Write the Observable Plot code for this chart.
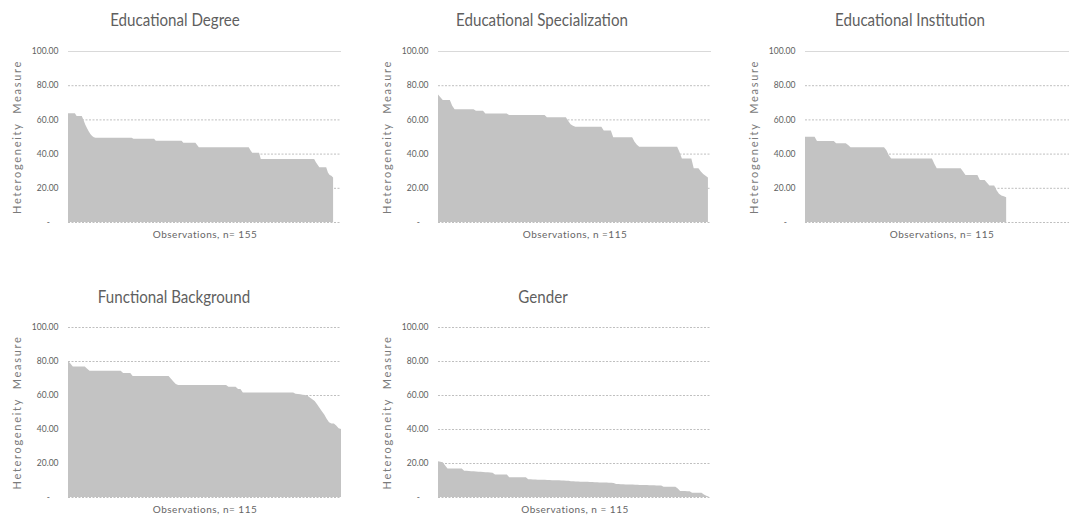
<!DOCTYPE html>
<html><head><meta charset="utf-8">
<script src="https://cdn.jsdelivr.net/npm/d3@7"></script>
<script src="https://cdn.jsdelivr.net/npm/@observablehq/plot@0.6"></script>
<style>
body{margin:0;background:#fff;}
#chart{position:relative;width:1069px;height:521px;overflow:hidden;background:#fff;font-family:Lato,'Open Sans',sans-serif;}
.title{position:absolute;transform:translate(-50%,-50%) scaleX(0.84);font-size:18px;color:#5f5f5f;white-space:nowrap;line-height:1;}
.panel{position:absolute;width:352px;height:215px;}
.panel svg{max-width:none !important;}
</style></head><body><div id="chart"></div>
<script>
// ---- data ----
const titles = ["Educational Degree", "Educational Specialization", "Educational Institution", "Functional Background", "Gender"];
const xLabels = ["Observations, n= 155", "Observations, n =115", "Observations, n= 115", "Observations, n= 115", "Observations, n = 115"];
const yLabel = "Heterogeneity\u00a0 Measure";
const yTicks = [0, 20, 40, 60, 80, 100];
const yTickLabels = ["-\u00a0\u00a0\u00a0\u00a0", "20.00", "40.00", "60.00", "80.00", "100.00"];

const degree = [
  63.6, 63.6, 63.6, 63.6, 63.6, 62, 62, 62, 62,
  59.6, 57, 55, 53, 51.5, 50.3, 49.6,
  49.3, 49.3, 49.3, 49.3, 49.3, 49.3, 49.3, 49.3, 49.3, 49.3, 49.3, 49.3, 49.3, 49.3, 49.3, 49.3, 49.3, 49.3, 49.3, 49.3, 49.3, 49.3,
  48.7, 48.7, 48.7, 48.7, 48.7, 48.7, 48.7, 48.7, 48.7, 48.7, 48.7, 48.7, 48.7,
  47.5, 47.5, 47.5, 47.5, 47.5, 47.5, 47.5, 47.5, 47.5, 47.5, 47.5, 47.5, 47.5, 47.5, 47.5, 47.5,
  46.4, 46.4, 46.4, 46.4, 46.4, 46.4, 46.4, 46.4,
  45,
  43.7, 43.7, 43.7, 43.7, 43.7, 43.7, 43.7, 43.7, 43.7, 43.7, 43.7, 43.7, 43.7, 43.7, 43.7,
  43.7, 43.7, 43.7, 43.7, 43.7, 43.7, 43.7, 43.7, 43.7, 43.7, 43.7, 43.7, 43.7, 43.7, 43.7,
  42,
  40.5, 40.5, 40.5, 40.5, 40.5,
  36.8, 36.8, 36.8, 36.8, 36.8, 36.8, 36.8, 36.8, 36.8, 36.8, 36.8, 36.8, 36.8, 36.8, 36.8, 36.8,
  36.8, 36.8, 36.8, 36.8, 36.8, 36.8, 36.8, 36.8, 36.8, 36.8, 36.8, 36.8, 36.8, 36.8, 36.8, 36.8,
  35, 33.5,
  32, 32, 32, 32, 32,
  29, 27.5, 27, 26
];
const specialization = [
  74.5, 73, 71.3, 71.3, 71.3, 71.3, 68,
  66, 66, 66, 66, 66, 66, 66, 66, 66,
  65, 65, 65, 65,
  63.5, 63.5, 63.5, 63.5, 63.5, 63.5, 63.5, 63.5, 63.5, 63.5,
  62.6, 62.6, 62.6, 62.6, 62.6, 62.6, 62.6, 62.6, 62.6, 62.6, 62.6, 62.6, 62.6, 62.6, 62.6, 62.6,
  61.2, 61.2, 61.2, 61.2, 61.2, 61.2, 61.2, 61.2, 61.2,
  59, 57.2, 56.3,
  55.7, 55.7, 55.7, 55.7, 55.7, 55.7, 55.7, 55.7, 55.7, 55.7, 55.7, 55.7,
  53.5, 53.5, 53.5, 53.5,
  49.5, 49.5, 49.5, 49.5, 49.5, 49.5, 49.5, 49.5, 49.5,
  47, 45.2,
  44, 44, 44, 44, 44, 44, 44, 44, 44, 44, 44, 44, 44, 44, 44, 44, 44,
  41,
  37.2, 37.2, 37.2, 37.2, 37.2,
  31.5, 31.5, 31.5,
  29.5, 28, 27, 26
];
const institution = [
  49.9, 49.9, 49.9, 49.9, 49.9,
  47.4, 47.4, 47.4, 47.4, 47.4, 47.4, 47.4, 47.4,
  46, 46, 46, 46, 46,
  45,
  43.7, 43.7, 43.7, 43.7, 43.7, 43.7, 43.7, 43.7, 43.7, 43.7, 43.7, 43.7, 43.7, 43.7, 43.7,
  42, 39,
  37.2, 37.2, 37.2, 37.2, 37.2, 37.2, 37.2, 37.2, 37.2, 37.2, 37.2, 37.2, 37.2, 37.2, 37.2, 37.2, 37.2, 37.2,
  34,
  31.4, 31.4, 31.4, 31.4, 31.4, 31.4, 31.4, 31.4, 31.4, 31.4, 31.4,
  29.5,
  27.5, 27.5, 27.5, 27.5, 27.5, 27.5,
  24.5, 24.5, 24.5,
  23,
  21.3, 21.3, 21.3,
  18.5, 16.5, 15.5, 15, 14.5
];
const functional = [
  80, 78.5,
  76.7, 76.7, 76.7, 76.7, 76.7, 76.7,
  75.5,
  74.3, 74.3, 74.3, 74.3, 74.3, 74.3, 74.3, 74.3, 74.3, 74.3, 74.3, 74.3, 74.3, 74.3,
  73, 73, 73, 73,
  71.2, 71.2, 71.2, 71.2, 71.2, 71.2, 71.2, 71.2, 71.2, 71.2, 71.2, 71.2, 71.2, 71.2, 71.2, 71.2,
  69.5, 68, 66.5,
  65.9, 65.9, 65.9, 65.9, 65.9, 65.9, 65.9, 65.9, 65.9, 65.9, 65.9, 65.9, 65.9, 65.9, 65.9, 65.9, 65.9, 65.9, 65.9, 65.9, 65.9,
  64.8, 64.8, 64.8, 64.8,
  63.5, 63.5,
  61.4, 61.4, 61.4, 61.4, 61.4, 61.4, 61.4, 61.4, 61.4, 61.4, 61.4,
  61.4, 61.4, 61.4, 61.4, 61.4, 61.4, 61.4, 61.4, 61.4, 61.4, 61.4,
  60.8, 60.6, 60.4, 60.2, 60, 59.6,
  58.5, 57.5, 56.5, 54.5, 52.5, 50.5, 48.5, 46, 44, 43.3, 43.3, 42, 40.5, 40
];
const gender = [
  21, 20.8, 20.5,
  18.5,
  16.8, 16.8, 16.8, 16.8, 16.8, 16.8, 16.8,
  15.5, 15.4, 15.3, 15.2, 15.1, 15, 14.9, 14.8, 14.7, 14.6, 14.5, 14.4, 14.3,
  13.3, 13.3, 13.3, 13.3, 13.3, 13.3,
  11.6, 11.6, 11.6, 11.6, 11.6, 11.6, 11.6, 11.6,
  10.4, 10.4, 10.3, 10.3, 10.2, 10.2, 10.1, 10.1, 10, 10, 9.9, 9.9, 9.8, 9.8, 9.7, 9.7, 9.6, 9.6,
  9.2, 9.2, 9.1, 9.1, 9, 9, 8.9, 8.9, 8.8, 8.8, 8.7, 8.7, 8.6, 8.6, 8.5, 8.5, 8.4, 8.4, 8.3,
  7.6, 7.6, 7.5, 7.5, 7.4, 7.4, 7.3, 7.3, 7.2, 7.2, 7.1, 7.1, 7, 7, 6.9, 6.9, 6.9, 6.8, 6.8, 6.8,
  6, 6, 6, 6, 6, 6,
  5, 3.6, 3.5, 3.5, 3.4, 3.4,
  2.5, 2.5, 2.5, 2.5, 2.5,
  1.5, 0.8, 0.3
];
const series = [degree, specialization, institution, functional, gender];
// category-axis length of each panel (number of slots)
const xMax = [158.6, 115.3, 114, 114, 115];

// ---- layout ----
const panelPos = [
  {left: 0, top: 35, tx: 175, ty: 19},
  {left: 370, top: 35, tx: 542, ty: 19},
  {left: 737, top: 35, tx: 910, ty: 19},
  {left: 0, top: 311, tx: 174, ty: 296},
  {left: 370, top: 311, tx: 543, ty: 296}
];
const FONT = "Lato,'Open Sans',sans-serif";
const chart = document.getElementById("chart");

series.forEach((vals, k) => {
  const pos = panelPos[k];
  const t = document.createElement("div");
  t.className = "title";
  t.style.left = pos.tx + "px";
  t.style.top = pos.ty + "px";
  t.textContent = titles[k];
  chart.appendChild(t);

  const bottomRow = k >= 3;
  // top row: the 100 gridline is a faint solid line, the rest are dotted
  const dottedTicks = bottomRow ? yTicks : yTicks.slice(0, -1);
  const solidTicks = bottomRow ? [] : yTicks.slice(-1);
  const svg = Plot.plot({
    width: 352,
    height: 215,
    marginLeft: 68,
    marginRight: 11,
    marginTop: 16,
    marginBottom: bottomRow ? 29 : 28,
    x: {domain: [0, xMax[k]], axis: null},
    y: {domain: [0, 100], ticks: yTicks, tickFormat: (d) => yTickLabels[yTicks.indexOf(d)], tickSize: 0, tickPadding: 10, label: null},
    style: {fontFamily: FONT, fontSize: "8.5px", color: "#606060", background: "transparent", overflow: "visible"},
    marks: [
      Plot.ruleY(solidTicks, {stroke: "#d9d9d9"}),
      Plot.ruleY(dottedTicks, {stroke: "#bfbfbf", strokeDasharray: "2,1.5"}),
      Plot.areaY(vals, {fill: "#c3c3c3"}),
      Plot.text([xLabels[k]], {text: (d) => d, frameAnchor: "bottom", dy: 15, fontSize: 10, fill: "#666"}),
      Plot.text([yLabel], {text: (d) => d, frameAnchor: "left", textAnchor: "middle", dx: -51, rotate: -90, fontSize: 11, fill: "#7a7a7a"})
    ]
  });
  svg.style.maxWidth = "none";
  const texts = svg.querySelectorAll('g[aria-label="text"]');
  if (texts.length >= 2) {
    texts[0].style.letterSpacing = "0.5px";
    texts[1].style.letterSpacing = "1.7px";
  }
  const wrap = document.createElement("div");
  wrap.className = "panel";
  wrap.style.left = pos.left + "px";
  wrap.style.top = pos.top + "px";
  wrap.appendChild(svg);
  chart.appendChild(wrap);
});
</script>
</body></html>
